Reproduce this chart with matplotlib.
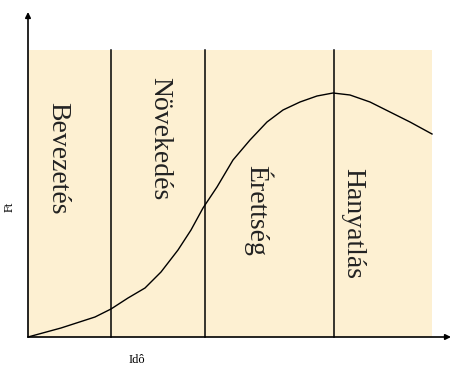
import matplotlib.pyplot as plt
from matplotlib.patches import Rectangle

# product life cycle (pixel-ish units, origin at axis corner)
phases = ["Bevezetés", "Növekedés", "Érettség", "Hanyatlás"]
phase_bounds = [83, 177, 306]
label_x = [30, 132, 230, 325]
label_y = [179, 198, 127, 114]

curve_x = [0, 33, 67, 83, 100, 117, 133, 150, 163, 175, 189, 205, 222,
           239, 255, 272, 289, 305, 322, 342, 362, 382, 404]
curve_y = [0, 9, 20, 28, 39, 49, 65, 87, 107, 129, 150, 177, 197,
           215, 227, 235, 241, 244, 242, 235, 225, 215, 203]

area_right = 404
area_top = 287
x_end = 423
y_end = 325

fig = plt.figure(figsize=(4.51, 3.67), dpi=100)
ax = fig.add_axes([0, 0, 1, 1])
ax.set_xlim(-28, 423)
ax.set_ylim(-30, 337)
ax.axis("off")

ax.add_patch(Rectangle((0, 0), area_right, area_top, facecolor="#fdf0d2",
                       edgecolor="none", zorder=0))

for b in phase_bounds:
    ax.plot([b, b], [0, area_top], color="black", lw=1.1, zorder=2)

ax.plot(curve_x, curve_y, color="black", lw=1.0, zorder=3)

# axes with arrows
ax.annotate("", xy=(x_end, 0), xytext=(0, 0),
            arrowprops=dict(arrowstyle="-|>", color="black", lw=1.2,
                            mutation_scale=8, shrinkA=0, shrinkB=0))
ax.annotate("", xy=(0, y_end), xytext=(0, 0),
            arrowprops=dict(arrowstyle="-|>", color="black", lw=1.2,
                            mutation_scale=8, shrinkA=0, shrinkB=0))

for name, lx, ly in zip(phases, label_x, label_y):
    ax.text(lx, ly, name, rotation=-90, ha="center", va="center",
            fontsize=20, family="Liberation Serif", color="#222222")

ax.text(-18, 130, "Ft", rotation=90, ha="center", va="center",
        fontsize=9, family="Liberation Serif")
ax.text(109, -23, "Idô", ha="center", va="center",
        fontsize=9, family="Liberation Serif")

fig.savefig("out.png", dpi=100)
